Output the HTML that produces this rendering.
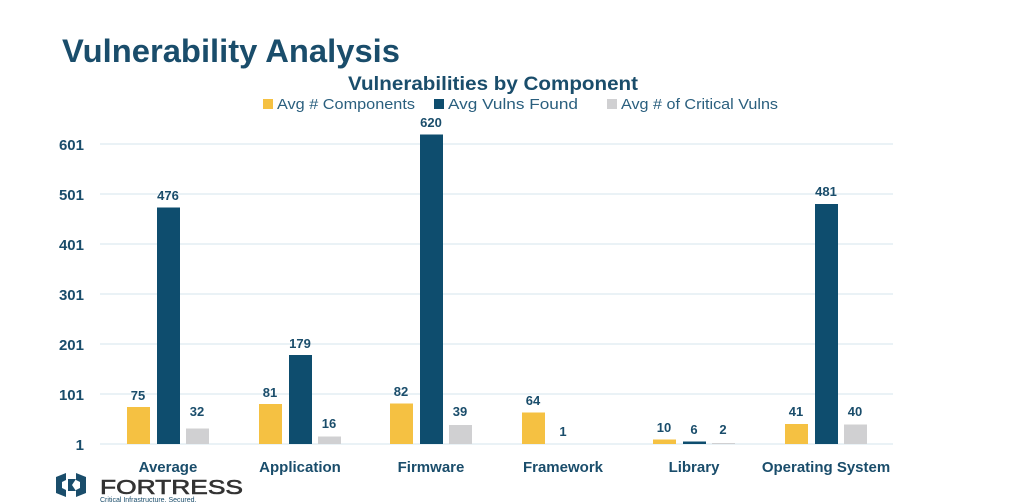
<!DOCTYPE html>
<html><head><style>body{margin:0;background:#fff}svg{display:block}</style></head>
<body>
<svg width="1024" height="503" viewBox="0 0 1024 503" xmlns="http://www.w3.org/2000/svg" font-family="Liberation Sans, sans-serif" font-weight="bold">
<text x="62" y="62" font-size="32" fill="#1A4D6B" textLength="338" lengthAdjust="spacingAndGlyphs">Vulnerability Analysis</text>
<text x="493" y="90" font-size="19" fill="#1A4D6B" text-anchor="middle" textLength="290" lengthAdjust="spacingAndGlyphs">Vulnerabilities by Component</text>
<g font-weight="normal" font-size="15" fill="#2A5F7E">
<rect x="263" y="99" width="10" height="10" fill="#F5C142"/><text x="277" y="109" textLength="138" lengthAdjust="spacingAndGlyphs">Avg # Components</text>
<rect x="434" y="99" width="10" height="10" fill="#0E4D6E"/><text x="448" y="109" textLength="130" lengthAdjust="spacingAndGlyphs">Avg Vulns Found</text>
<rect x="607" y="99" width="10" height="10" fill="#D0D0D2"/><text x="621" y="109" textLength="157" lengthAdjust="spacingAndGlyphs">Avg # of Critical Vulns</text>
</g>
<g stroke="#E3EEF3" stroke-width="1.5">
<line x1="100" x2="893" y1="144" y2="144"/><line x1="100" x2="893" y1="194" y2="194"/><line x1="100" x2="893" y1="244" y2="244"/><line x1="100" x2="893" y1="294" y2="294"/><line x1="100" x2="893" y1="344" y2="344"/><line x1="100" x2="893" y1="394" y2="394"/><line x1="100" x2="893" y1="444" y2="444"/>
</g>
<g font-size="15" fill="#1A4D6B" text-anchor="end">
<text x="84" y="150">601</text><text x="84" y="200">501</text><text x="84" y="250">401</text><text x="84" y="300">301</text><text x="84" y="350">201</text><text x="84" y="400">101</text><text x="84" y="450">1</text>
</g>
<g font-size="15" fill="#1A4D6B" text-anchor="middle">
<text x="168" y="472">Average</text><text x="300" y="472">Application</text><text x="431" y="472">Firmware</text><text x="563" y="472">Framework</text><text x="694" y="472">Library</text><text x="826" y="472">Operating System</text>
</g>
<g font-size="13" fill="#1A4D6B" text-anchor="middle">
<rect x="127" y="407" width="23" height="37" fill="#F5C142"/><text x="138" y="400">75</text>
<rect x="157" y="207.5" width="23" height="236.5" fill="#0E4D6E"/><text x="168" y="200">476</text>
<rect x="186" y="428.5" width="23" height="15.5" fill="#D0D0D2"/><text x="197" y="416">32</text>

<rect x="259" y="404" width="23" height="40" fill="#F5C142"/><text x="270" y="397">81</text>
<rect x="289" y="355" width="23" height="89" fill="#0E4D6E"/><text x="300" y="348">179</text>
<rect x="318" y="436.5" width="23" height="7.5" fill="#D0D0D2"/><text x="329" y="428">16</text>

<rect x="390" y="403.5" width="23" height="40.5" fill="#F5C142"/><text x="401" y="396">82</text>
<rect x="420" y="134.5" width="23" height="309.5" fill="#0E4D6E"/><text x="431" y="127">620</text>
<rect x="449" y="425" width="23" height="19" fill="#D0D0D2"/><text x="460" y="416">39</text>

<rect x="522" y="412.5" width="23" height="31.5" fill="#F5C142"/><text x="533" y="405">64</text>
<text x="563" y="436">1</text>

<rect x="653" y="439.5" width="23" height="4.5" fill="#F5C142"/><text x="664" y="432">10</text>
<rect x="683" y="441.5" width="23" height="2.5" fill="#0E4D6E"/><text x="694" y="434">6</text>
<rect x="712" y="443" width="23" height="1" fill="#D0D0D2"/><text x="723" y="434">2</text>

<rect x="785" y="424" width="23" height="20" fill="#F5C142"/><text x="796" y="416">41</text>
<rect x="815" y="204" width="23" height="240" fill="#0E4D6E"/><text x="826" y="196">481</text>
<rect x="844" y="424.5" width="23" height="19.5" fill="#D0D0D2"/><text x="855" y="416">40</text>
</g>
<g fill="#1A4D6B">
<path d="M56 477 L66 473 L66 480 L62 482 L62 488 L66 490 L66 497 L56 493 Z"/>
<path d="M68 479 L76 479 L72 485 L76 491 L68 491 Z"/>
<path d="M86 477 L76 473 L76 480 L80 482 L80 488 L76 490 L76 497 L86 493 Z"/>
</g>
<text x="100" y="494" font-size="20" font-weight="normal" fill="#333" textLength="143" lengthAdjust="spacingAndGlyphs" stroke="#333" stroke-width="0.6">FORTRESS</text>
<text x="100" y="502" font-size="7" font-weight="normal" fill="#1A4D6B">Critical Infrastructure. Secured.</text>
</svg>
</body></html>
